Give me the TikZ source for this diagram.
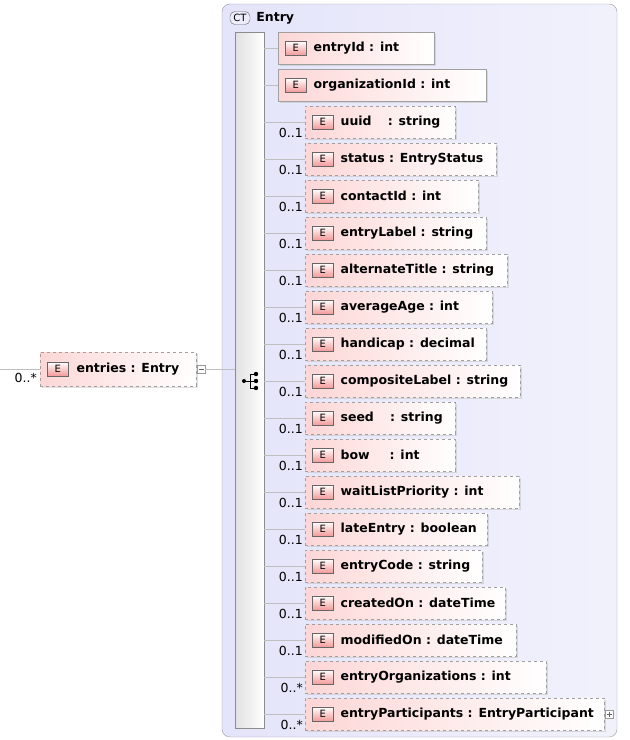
\documentclass[tikz,border=0pt]{standalone}
\usepackage{fontspec}
\setmainfont{DejaVu Sans}
\usetikzlibrary{positioning,shadows}
\definecolor{ctfill}{HTML}{E4E4FA}
\definecolor{ctline}{HTML}{9A9AAA}
\definecolor{epink}{HTML}{FDD6D6}
\definecolor{ebadge}{HTML}{F08080}
\definecolor{boxline}{HTML}{A0A0A0}

\tikzset{
  ebox/.style={draw=boxline,shading=axis,left color=epink,right color=white,
    minimum height=32pt,inner sep=0pt,anchor=west,
    drop shadow={shadow xshift=2pt,shadow yshift=-2pt,fill=black!25}},
  optbox/.style={ebox,dashed},
  badge/.style={draw=black!60,shading=axis,top color=white,bottom color=ebadge!80,
    minimum width=21pt,minimum height=14pt,inner sep=0pt,font=\fontsize{10}{10}\selectfont,anchor=west},
  elabel/.style={font=\bfseries\fontsize{12.5}{15}\selectfont,inner sep=0pt,anchor=west},
  mult/.style={font=\fontsize{12.5}{14}\selectfont,inner sep=0pt,anchor=south east},
  branch/.style={draw=black!25}
}

\begin{document}
\begin{tikzpicture}[x=1pt,y=-1pt]
\useasboundingbox (0,0) rectangle (630,740);

% complex type frame
\draw[ctline,rounded corners=8pt,shading=axis,left color=ctfill,right color=ctfill!50] (222,4) rectangle (617,737);
\node[draw=black!60,fill=ctfill!70,rounded corners=5pt,minimum width=20pt,minimum height=13pt,inner sep=0pt,font=\fontsize{10}{10}\selectfont] (ct) at (240,18) {CT};
\node[elabel,right=6pt of ct] (ctname) {Entry};

% sequence bar
\draw[black!45,shading=axis,left color=black!12,right color=white] (235,32) rectangle (264,728);
\coordinate (barL) at (235,369);
\coordinate (barR) at (264,369);
% sequence icon
\fill (244,381) circle (2pt);
\draw[line width=0.9pt] (244,381) -- (250,381) (250,374) -- (250,388) (250,374) -- (256,374) (250,381) -- (256,381) (250,388) -- (256,388);
\foreach \yy in {374,381,388} \fill (256,\yy) circle (2.2pt);

% parent element
\coordinate (lend) at (0,369);
\node[optbox,minimum width=156pt,minimum height=34pt] (entries) at (40,369) {};
\node[badge,right=7pt of entries.west] (entriesb) {E};
\node[elabel,right=8pt of entriesb] {entries : Entry};
\node[mult,anchor=east] at (37,378) {0..*};
\draw[branch] (lend) -- (entries.west);
\node[draw=black!40,fill=white,minimum size=8pt,inner sep=0pt] (minus) at (201,369) {};
\draw[black!60] (198.5,369) -- (203.5,369);
\draw[branch] (minus.east) -- (barL);

% children
\foreach \n/\txt/\x/\r/\m [count=\i from 0] in {
  entryId/{entryId : int}/278/434/,
  organizationId/{organizationId : int}/278/486/,
  uuid/{uuid\hspace{1.3em}: string}/305/455/0..1,
  status/{status : EntryStatus}/305/496/0..1,
  contactId/{contactId : int}/305/478/0..1,
  entryLabel/{entryLabel : string}/305/486/0..1,
  alternateTitle/{alternateTitle : string}/305/507/0..1,
  averageAge/{averageAge : int}/305/492/0..1,
  handicap/{handicap : decimal}/305/486/0..1,
  compositeLabel/{compositeLabel : string}/305/520/0..1,
  seed/{seed\hspace{1.3em}: string}/305/455/0..1,
  bow/{bow\hspace{1.6em}: int}/305/455/0..1,
  waitListPriority/{waitListPriority : int}/305/519/0..1,
  lateEntry/{lateEntry : boolean}/305/487/0..1,
  entryCode/{entryCode : string}/305/482/0..1,
  createdOn/{createdOn : dateTime}/305/505/0..1,
  modifiedOn/{modifiedOn : dateTime}/305/516/0..1,
  entryOrganizations/{entryOrganizations : int}/305/546/0..*,
  entryParticipants/{entryParticipants : EntryParticipant}/305/604/0..*}
{
  \pgfmathsetmacro{\yc}{48+37*\i}
  \pgfmathsetmacro{\boxw}{\r-\x}
  \ifx\m\empty
    \node[ebox,minimum width=\boxw pt] (\n) at (\x,\yc) {};
  \else
    \node[optbox,minimum width=\boxw pt] (\n) at (\x,\yc) {};
    \node[mult] at (303,\yc+16) {\m};
  \fi
  \node[badge,right=7pt of \n.west] (\n b) {E};
  \node[elabel,right=7pt of \n b] {\txt};
  \coordinate (\n s) at (264,\yc);
  \draw[branch] (\n s) -- (\n.west);
}
\node[draw=black!40,fill=white,minimum size=8pt,inner sep=0pt] (plus) at (609,714) {};
\draw[black!60] (606.5,714) -- (611.5,714) (609,711.5) -- (609,716.5);
\end{tikzpicture}
\end{document}
